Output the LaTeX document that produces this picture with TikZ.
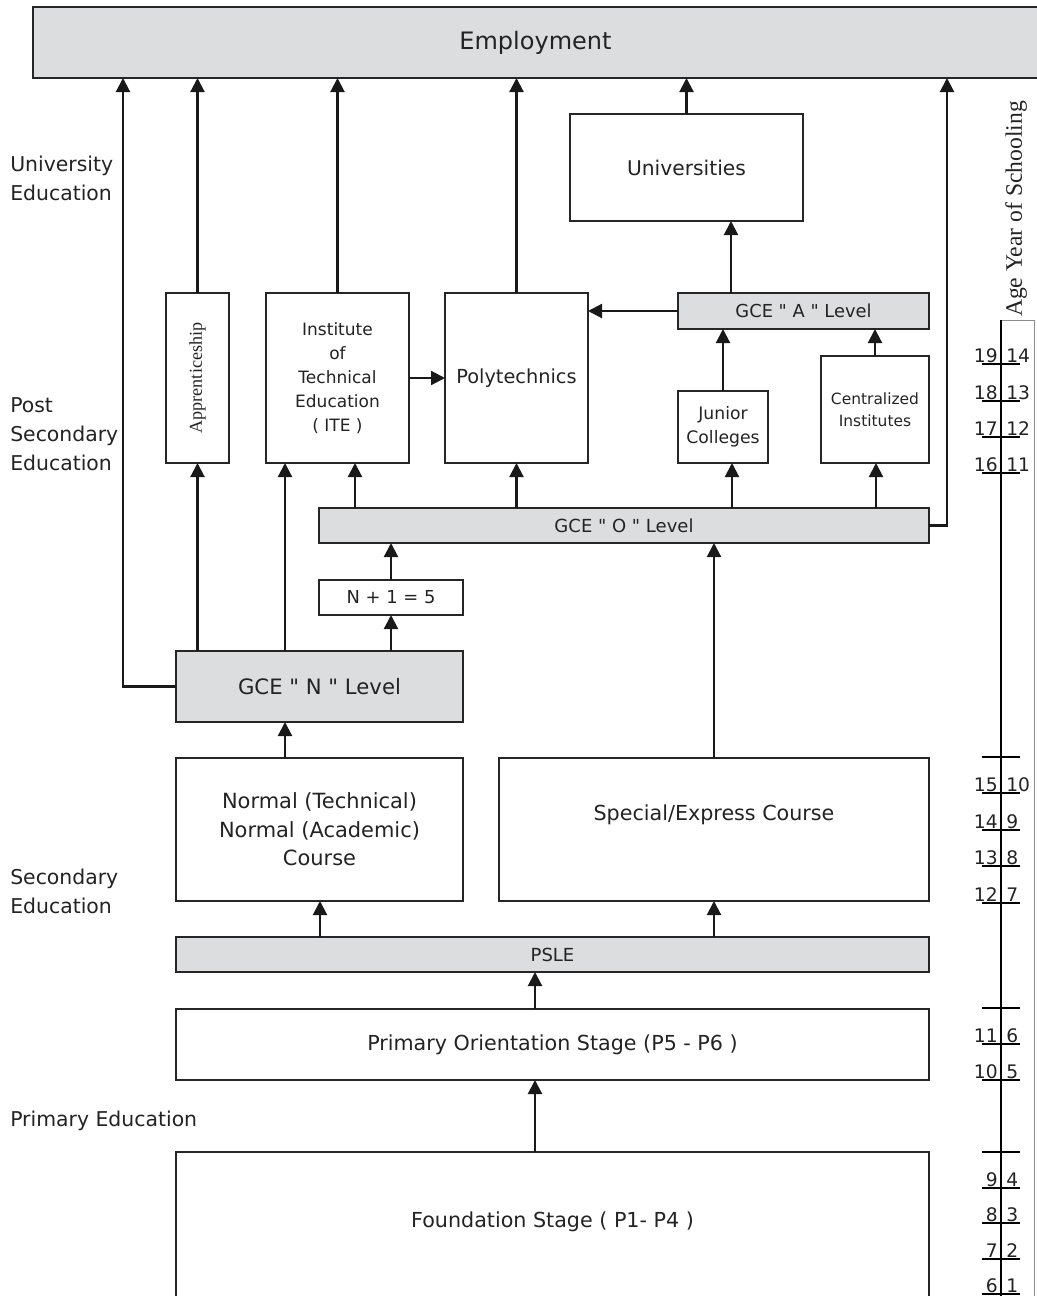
\documentclass[tikz,border=0pt]{standalone}
\usepackage{fontspec}
\setmainfont{DejaVu Sans}[Ligatures=TeXOff]
\newfontfamily\seriffam{Liberation Serif}
\usetikzlibrary{arrows.meta,calc}
\newcommand\fsz[2]{\fontsize{#1}{#2}\selectfont}
\definecolor{boxgray}{RGB}{220,221,223}
\definecolor{txt}{RGB}{35,35,35}
\begin{document}
\begin{tikzpicture}[x=0.75pt,y=-0.75pt,
  box/.style={draw=black!85,line width=1.5pt,fill=white,inner sep=0pt,outer sep=0pt,align=center,text=txt},
  gbox/.style={box,fill=boxgray},
  wh/.style 2 args={minimum width=#1*0.75pt,minimum height=#2*0.75pt},
  arr/.style={draw=black!90,line width=1.6pt,-{Triangle[length=10.5pt,width=10.5pt]}},
  lbl/.style={anchor=west,align=left,inner sep=0pt,text=txt,font=\fsz{15.3pt}{21.75pt}},
  tick/.style={line width=1.5pt},
  dl/.style={anchor=base east,inner sep=0pt,text=txt,font=\fsz{14pt}{16pt}},
  dr/.style={anchor=base west,inner sep=0pt,text=txt,font=\fsz{14pt}{16pt}}]
\useasboundingbox (0,0) rectangle (1036,1296);

% boxes
\node[gbox,wh={1005}{71},font=\fsz{18pt}{20pt}] (emp) at (535.5,42.5) {Employment};
\node[box,wh={233}{107},font=\fsz{15.2pt}{18pt}] (univ) at (686.5,167.5) {Universities};
\node[gbox,wh={251}{36},font=\fsz{13.4pt}{16pt}] (alevel) at (803.5,311) {GCE " A " Level};
\node[box,wh={63}{170}] (appr) at (197.5,378) {};
\node[rotate=90,inner sep=0pt,text=txt,font=\seriffam\fsz{13.6pt}{16pt}] (apprt) at (appr.center) {Apprenticeship};
\node[box,wh={143}{170},font=\fsz{12.75pt}{18pt}] (ite) at (337.5,378) {Institute\\of\\Technical\\Education\\( ITE )};
\node[box,wh={143}{170},font=\fsz{14.5pt}{18pt}] (poly) at (516.5,378) {Polytechnics};
\node[box,wh={90}{72},font=\fsz{12.9pt}{18pt}] (jc) at (723,427) {Junior\\Colleges};
\node[box,wh={108}{107},font=\fsz{11.6pt}{16.5pt}] (ci) at (875,409.5) {Centralized\\Institutes};
\node[gbox,wh={610}{35},font=\fsz{13.5pt}{16pt}] (olevel) at (624,525.5) {GCE " O " Level};
\node[box,wh={144}{35},font=\fsz{13.4pt}{16pt}] (nplus) at (391,597.5) {N + 1 = 5};
\node[gbox,wh={287}{71},font=\fsz{15.9pt}{18pt}] (nlevel) at (319.5,686.5) {GCE " N " Level};
\node[box,wh={287}{143},font=\fsz{15.7pt}{21.4pt}] (normal) at (319.5,829.5) {Normal (Technical)\\Normal (Academic)\\Course};
\node[box,wh={430}{143}] (special) at (714,829.5) {};
\node[inner sep=0pt,text=txt,font=\fsz{15.5pt}{18pt}] (spt) at (714,815) {Special/Express Course};
\node[gbox,wh={753}{35},font=\fsz{13.5pt}{16pt}] (psle) at (552.5,954.5) {PSLE};
\node[box,wh={753}{71},font=\fsz{15.5pt}{18pt}] (pos) at (552.5,1044.5) {Primary Orientation Stage (P5 - P6 )};
\node[box,wh={753}{150}] (found) at (552.5,1227) {};
\node[inner sep=0pt,text=txt,font=\fsz{15.5pt}{18pt}] (fdt) at (552.5,1222) {Foundation Stage ( P1- P4 )};

% left labels
\node[lbl] (lu) at (10,178) {University\\Education};
\node[lbl] (lp) at (10,434) {Post\\Secondary\\Education};
\node[lbl] (ls) at (10,891) {Secondary\\Education};
\node[lbl] (lpr) at (10,1121) {Primary Education};

% guide coordinates
\coordinate (g123) at (123,0);
\coordinate (g285) at (285,0);
\coordinate (g320) at (320,0);
\coordinate (g355) at (355,0);
\coordinate (g391) at (391,0);
\coordinate (g731) at (731,0);
\coordinate (g732) at (732,0);
\coordinate (g876) at (876,0);
\coordinate (g947) at (947,0);
\coordinate (g535) at (535,0);

% connectors to employment
\draw[arr] (nlevel.west) -| (g123 |- emp.south);
\draw[arr] (appr.north) -- (appr.north |- emp.south);
\draw[arr] (ite.north) -- (ite.north |- emp.south);
\draw[arr] (poly.north) -- (poly.north |- emp.south);
\draw[arr] (univ.north) -- (univ.north |- emp.south);
\draw[arr] (olevel.east) -| (g947 |- emp.south);

% upper connectors
\draw[arr] (alevel.north -| g731) -- (univ.south -| g731);
\draw[arr] (alevel.west) -- (alevel.west -| poly.east);
\draw[arr] (ite.east) -- (poly.west);
\draw[arr] (jc.north) -- (jc.north |- alevel.south);
\draw[arr] (ci.north) -- (ci.north |- alevel.south);
\draw[arr] (olevel.north -| g355) -- (ite.south -| g355);
\draw[arr] (olevel.north -| poly.south) -- (poly.south);
\draw[arr] (olevel.north -| g732) -- (jc.south -| g732);
\draw[arr] (olevel.north -| g876) -- (ci.south -| g876);
\draw[arr] (nplus.north) -- (nplus.north |- olevel.south);
\draw[arr] (nlevel.north -| g391) -- (nplus.south);
\draw[arr] (nlevel.north -| appr.south) -- (appr.south);
\draw[arr] (nlevel.north -| g285) -- (ite.south -| g285);
\draw[arr] (normal.north -| g285) -- (nlevel.south -| g285);
\draw[arr] (special.north) -- (special.north |- olevel.south);
\draw[arr] (psle.north -| g320) -- (normal.south -| g320);
\draw[arr] (psle.north -| special.south) -- (special.south);
\draw[arr] (pos.north -| g535) -- (psle.south -| g535);
\draw[arr] (found.north -| g535) -- (pos.south -| g535);

% age scale
\draw[black!45,line width=0.6pt] (1001,320) -- (1034,320) -- (1034,1300);
\draw[line width=1.7pt] (1001,320) -- (1001,1300);
\node[rotate=90,anchor=center,inner sep=0pt,text=txt,font=\seriffam\fsz{17.7pt}{20pt}] (agel) at (1016,209) {Age Year of Schooling};
\foreach \y in {364,401,437,473,757,793,830,866,903,1008,1044,1080,1152,1188,1223,1259,1294}
  \draw[tick] (982,\y) -- (1020,\y);
\foreach \y/\a/\b in {364/19/14,401/18/13,437/17/12,473/16/11,793/15/10,830/14/9,866/13/8,903/12/7,1044/11/6,1080/10/5,1188/9/4,1223/8/3,1259/7/2,1294/6/1}{
  \node[dl] at (998,\y-2) {\a};
  \node[dr] at (1006,\y-2) {\b};
}
\end{tikzpicture}
\end{document}
